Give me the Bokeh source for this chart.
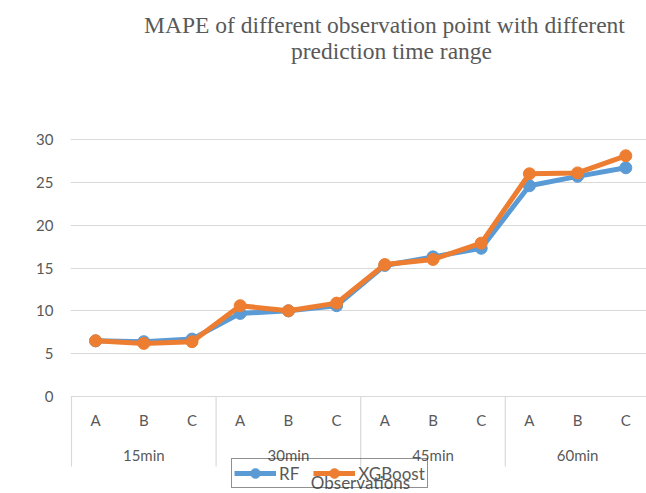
import math
from bokeh.plotting import figure
from bokeh.models import Range1d, FixedTicker, Label, Legend, LegendItem
from bokeh.core.properties import value
from bokeh.embed import file_html
from bokeh.resources import INLINE

# ---- data ----
groups = ["15min", "30min", "45min", "60min"]
points = ["A", "B", "C"]
rf = [6.5, 6.4, 6.7, 9.7, 10.0, 10.6, 15.3, 16.3, 17.3, 24.6, 25.7, 26.7]
xgb = [6.5, 6.2, 6.4, 10.6, 10.0, 10.9, 15.4, 16.0, 17.9, 26.0, 26.1, 28.1]
y_ticks = [0, 5, 10, 15, 20, 25, 30]
title_lines = ["MAPE of different observation point with different", "prediction time range"]

# ---- geometry helpers (reference pixel -> data) ----
W, H = 646, 493
X0, UX = 71.0, 48.2
Y0, UY = 396.0, 257.0 / 30.0
def xd(px):
    return (px - X0) / UX
def yd(py):
    return (Y0 - py) / UY

LEFT_PX = 70  # frame left in reference px
p = figure(width=W, height=H, output_backend="svg", toolbar_location=None,
           x_range=Range1d(xd(LEFT_PX), xd(W)), y_range=Range1d(yd(H), yd(0)),
           x_axis_location=None, min_border_left=LEFT_PX, min_border_right=0,
           min_border_top=0, min_border_bottom=0)
p.outline_line_color = None
p.background_fill_color = "white"
p.xgrid.visible = False

p.yaxis.ticker = FixedTicker(ticks=y_ticks)
p.yaxis.axis_line_color = None
p.yaxis.major_tick_line_color = None
p.yaxis.minor_tick_line_color = None
p.yaxis.major_tick_out = 0
p.yaxis.major_tick_in = 0
p.yaxis.major_label_standoff = 17
p.yaxis.major_label_text_font = "Lato"
p.yaxis.major_label_text_font_size = "15px"
p.yaxis.major_label_text_color = "#595959"
p.ygrid.ticker = FixedTicker(ticks=y_ticks)
p.ygrid.grid_line_color = "#d9d9d9"
p.ygrid.grid_line_width = 1.2

n = len(groups) * len(points)
xs = [i + 0.5 for i in range(n)]

# category separators
sep_x = [g * len(points) for g in range(len(groups) + 1)]
p.segment(x0=sep_x, y0=[0] * len(sep_x), x1=sep_x, y1=[yd(466)] * len(sep_x),
          line_color="#d9d9d9", line_width=1.2)

# category labels
sub_labels = [points[i % len(points)] for i in range(n)]
p.text(x=xs, y=[yd(419)] * n, text=sub_labels, text_align="center", text_baseline="middle",
       text_font=value("Lato"), text_font_size="15px", text_color="#595959")
gx = [g * len(points) + len(points) / 2 for g in range(len(groups))]
p.text(x=gx, y=[yd(454)] * len(groups), text=groups, text_align="center", text_baseline="middle",
       text_font=value("Lato"), text_font_size="15px", text_color="#595959")

# series
blue, orange = "#5B9BD5", "#ED7D31"
l1 = p.line(xs, rf, line_color=blue, line_width=5, line_join="round")
s1 = p.scatter(xs, rf, marker="circle", size=12, fill_color=blue, line_color=blue)
l2 = p.line(xs, xgb, line_color=orange, line_width=5, line_join="round")
s2 = p.scatter(xs, xgb, marker="circle", size=12, fill_color=orange, line_color=orange)

# x axis title
p.text(x=[xd(360)], y=[yd(482)], text=["Observations"], text_align="center", text_baseline="middle",
       text_font=value("Lato"), text_font_size="17px", text_color="#595959")

# chart title
p.text(x=[xd(384)], y=[yd(24)], text=[title_lines[0]], text_align="center", text_baseline="alphabetic",
       text_font=value("Liberation Serif"), text_font_size="23.5px", text_color="#595959")
p.text(x=[xd(391)], y=[yd(50)], text=[title_lines[1]], text_align="center", text_baseline="alphabetic",
       text_font=value("Liberation Serif"), text_font_size="23.5px", text_color="#595959")

# y axis title
p.add_layout(Label(x=xd(20), y=yd(267), text="MAPE %", angle=math.pi / 2,
                   text_align="center", text_baseline="middle", text_font="Lato",
                   text_font_size="17px", text_font_style="bold", text_color="#595959"))

legend = Legend(items=[LegendItem(label="RF", renderers=[l1, s1]),
                       LegendItem(label="XGBoost", renderers=[l2, s2])],
                orientation="horizontal", location=(231 - LEFT_PX, H - 488),
                glyph_width=42, glyph_height=24, label_height=16, label_standoff=3,
                spacing=14, padding=2, margin=0,
                label_text_font="Lato", label_text_font_size="17px", label_text_color="#595959",
                border_line_color="#222222", border_line_width=1,
                background_fill_alpha=0)
p.add_layout(legend)

open("out.html", "w").write(file_html(p, INLINE))
